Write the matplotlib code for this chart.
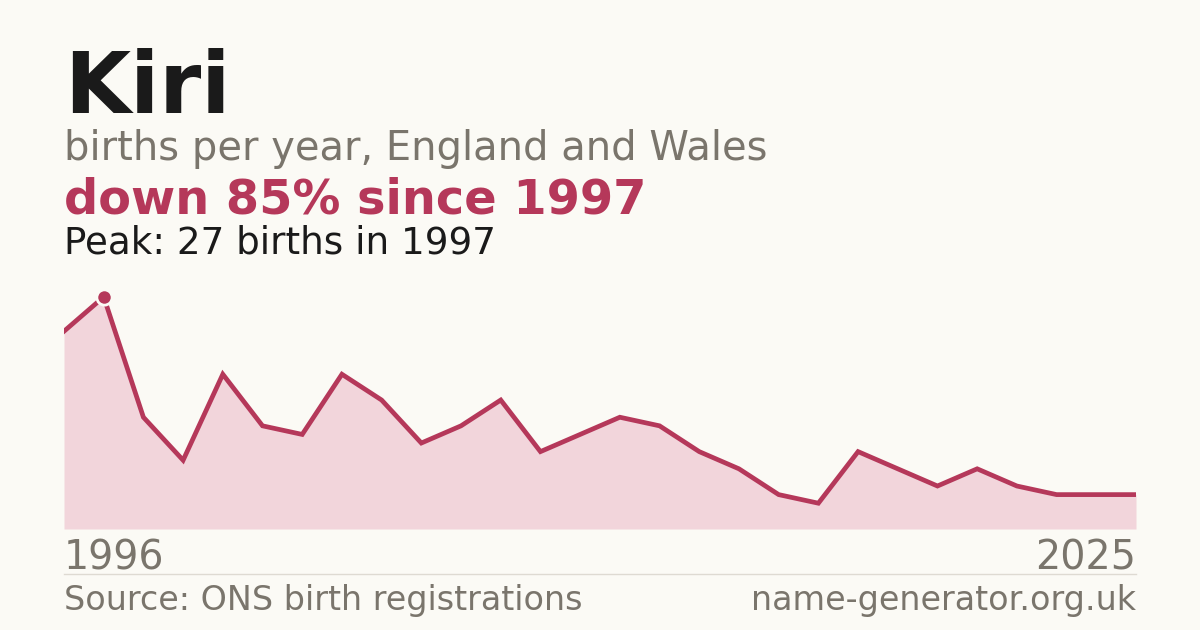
import matplotlib
matplotlib.use("Agg")
import matplotlib.pyplot as plt
import numpy as np

# births per year for "Kiri", 1996 .. 2025 (28 points as drawn)
births = [23, 27, 13, 8, 18, 12, 11, 18, 15, 10, 12, 15, 9, 11,
          13, 12, 9, 7, 4, 3, 9, 7, 5, 7, 5, 4, 4, 4]
first_year = "1996"
last_year = "2025"
peak_idx = 1

BG = "#fbfaf5"
RED = "#b5385a"
FILL = "#f2d5db"
GREY = "#7a756c"
INK = "#1a1a1a"

plt.rcParams['font.family'] = ['DejaVu Sans']

fig = plt.figure(figsize=(12, 6.3), dpi=100, facecolor=BG)

ax = fig.add_axes([64/1200, (630-529)/630, 1072/1200, (529-290)/630])
ax.set_facecolor(BG)
x = np.arange(len(births))
ax.fill_between(x, births, 0, color=FILL, linewidth=0)
ax.plot(x, births, color=RED, linewidth=3.4, solid_joinstyle='miter')
ax.plot([x[peak_idx]], [births[peak_idx]], 'o', color=RED, markersize=11,
        markeredgecolor=BG, markeredgewidth=2, clip_on=False, zorder=5)
ax.set_xlim(0, len(births) - 1)
ax.set_ylim(0, 27.8)
ax.axis('off')

fig.text(64/1200, 1-113/630, "Kiri", fontsize=61.5, fontweight='bold', color=INK, va='baseline')
fig.text(64/1200, 1-160/630, "births per year, England and Wales", fontsize=28.8, color=GREY, va='baseline')
fig.text(64/1200, 1-214/630, "down 85% since 1997", fontsize=34.5, fontweight='bold', color=RED, va='baseline')
fig.text(64/1200, 1-254/630, "Peak: 27 births in 1997", fontsize=26.8, color=INK, va='baseline')

fig.text(64/1200, 1-570/630, first_year, fontsize=28.5, color=GREY, va='baseline')
fig.text(1136/1200, 1-570/630, last_year, fontsize=28.5, color=GREY, va='baseline', ha='right')

fig.add_artist(plt.Line2D([64/1200, 1136/1200], [1-574/630, 1-574/630], color="#dedad2", linewidth=1))

fig.text(64/1200, 1-610/630, "Source: ONS birth registrations", fontsize=24, color=GREY, va='baseline')
fig.text(1136/1200, 1-610/630, "name-generator.org.uk", fontsize=24, color=GREY, va='baseline', ha='right')

fig.savefig("out.png", dpi=100, facecolor=BG)
